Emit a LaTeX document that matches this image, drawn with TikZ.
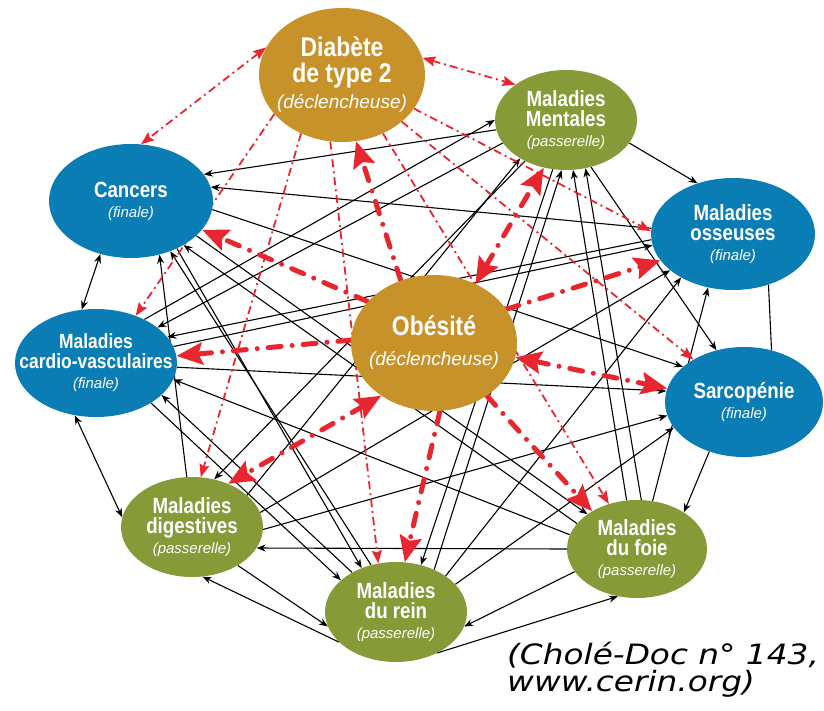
\documentclass[tikz,border=0pt]{standalone}
\usepackage{fontspec}
\setmainfont{Liberation Sans}
\newfontfamily\headfont[FakeStretch=0.85]{Liberation Sans}
\newfontfamily\citefont[FakeStretch=1.17]{DejaVu Sans}
\usetikzlibrary{arrows.meta, shapes.geometric, backgrounds}

\definecolor{trigger}{HTML}{C8922B}
\definecolor{bridge}{HTML}{869A37}
\definecolor{final}{HTML}{0B7DB5}
\definecolor{alarm}{HTML}{E8262F}

\newcommand{\kind}[2][15]{{\rmfamily\mdseries\itshape\fontsize{#1}{#1}\selectfont #2}}

\tikzset{
    bk/.tip={Stealth[length=9pt, width=7pt]},
    rd/.tip={Stealth[length=13pt, width=10pt, inset=2pt]},
    rdbig/.tip={Stealth[length=26pt, width=22pt, inset=4pt]}
}

\begin{document}
\begin{tikzpicture}[
    x=1pt, y=-1pt,
    blob/.style 2 args={ellipse, inner sep=0pt, minimum width=#1, minimum height=#2},
    title/.style={text=white, align=center, font=\headfont\bfseries\fontsize{22}{20}\selectfont},
    bigtitle/.style={text=white, align=center, font=\headfont\bfseries\fontsize{27}{26}\selectfont},
    cite/.style={align=left, anchor=north west, inner sep=0pt, font=\citefont\itshape\fontsize{28}{27}\selectfont},
    blk/.style={black, line width=1.1pt},
    thinred/.style={alarm, line width=1.8pt, dash pattern=on 8pt off 4pt on 2pt off 4pt},
    thickred/.style={alarm, line width=5pt, line cap=round, dash pattern=on 13pt off 11pt on 0pt off 11pt}
]
    \useasboundingbox (0,0) rectangle (824,711);

    % diseases
    \node[blob={166pt}{134pt}, fill=trigger] (diabete) at (342,75) {};
    \node[blob={142pt}{100pt}, fill=bridge] (mentales) at (566,120) {};
    \node[blob={164pt}{112pt}, fill=final] (osseuses) at (733,234) {};
    \node[blob={158pt}{110pt}, fill=final] (sarco) at (744,402) {};
    \node[blob={140pt}{98pt}, fill=bridge] (foie) at (637,549) {};
    \node[blob={142pt}{100pt}, fill=bridge] (rein) at (396,612) {};
    \node[blob={142pt}{100pt}, fill=bridge] (digest) at (192,527) {};
    \node[blob={162pt}{108pt}, fill=final] (cardio) at (96,363) {};
    \node[blob={164pt}{114pt}, fill=final] (cancers) at (131,201) {};
    \node[blob={166pt}{136pt}, fill=trigger] (obesite) at (434,343) {};

    \node[bigtitle] (diabete-txt) at (diabete) {Diabète\\de type 2\\\kind[19]{(déclencheuse)}};
    \node[title] (mentales-txt) at (mentales) {Maladies\\Mentales\\\kind{(passerelle)}};
    \node[title] (osseuses-txt) at (osseuses) {Maladies\\osseuses\\\kind{(finale)}};
    \node[title] (sarco-txt) at (sarco) {Sarcopénie\\\kind{(finale)}};
    \node[title] (foie-txt) at (foie) {Maladies\\du foie\\\kind{(passerelle)}};
    \node[title] (rein-txt) at (rein) {Maladies\\du rein\\\kind{(passerelle)}};
    \node[title] (digest-txt) at (digest) {Maladies\\digestives\\\kind{(passerelle)}};
    \node[title, font=\headfont\bfseries\fontsize{20.5}{20}\selectfont] (cardio-txt) at (cardio) {Maladies\\cardio-vasculaires\\\kind{(finale)}};
    \node[title] (cancers-txt) at (cancers) {Cancers\\\kind{(finale)}};
    \node[bigtitle] (obesite-txt) at (obesite) {Obésité\\[4pt]\kind[19]{(déclencheuse)}};

    \node[cite] (source) at (507,642) {(Cholé-Doc n° 143,\\www.cerin.org)};

    \begin{scope}[on background layer]
    % black links
    \draw[blk, -bk] (mentales.188) -- (cancers.20);
    \draw[blk, -bk] (osseuses.176) -- (cancers.10);
    \draw[blk, -bk] (cancers.-6) -- (sarco.150);
    \draw[blk, bk-bk] (cancers.-120) -- (cardio.105);
    \draw[blk, -bk] (digest.96) -- (cancers.-62);
    \draw[blk, -bk] (rein.118) -- (cancers.-52);
    \draw[blk, -bk] (foie.157) -- (cancers.-40);
    \draw[blk, -bk] (cancers.-46) -- (rein.128);
    \draw[blk, -bk] (mentales.200) -- (cardio.30);
    \draw[blk, -bk] (osseuses.184) -- (cardio.20);
    \draw[blk, -bk] (cardio.-3) -- (sarco.172);
    \draw[blk, -bk] (foie.168) -- (cardio.-12);
    \draw[blk, -bk] (rein.138) -- (cardio.-26);
    \draw[blk, bk-bk] (cardio.-112) -- (digest.172);
    \draw[blk, -bk] (cardio.-36) -- (rein.150);
    \draw[blk, -bk] (cardio.42) -- (mentales.180);
    \draw[blk, -bk] (cardio.12) -- (osseuses.-172);
    \draw[blk, -bk] (foie.180) -- (digest.-18);
    \draw[blk, -bk] (digest.-40) -- (rein.192);
    \draw[blk, -bk] (rein.208) -- (digest.-78);
    \draw[blk, -bk] (digest.30) -- (mentales.-140);
    \draw[blk, -bk] (digest.12) -- (osseuses.-150);
    \draw[blk, -bk] (digest.-2) -- (sarco.190);
    \draw[blk, -bk] (mentales.-135) -- (digest.65);
    \draw[blk, -bk] (rein.-45) -- (foie.-112);
    \draw[blk, -bk] (foie.200) -- (rein.-12);
    \draw[blk, -bk] (mentales.-105) -- (rein.62);
    \draw[blk, -bk] (rein.48) -- (mentales.-95);
    \draw[blk, -bk] (rein.36) -- (osseuses.-140);
    \draw[blk, -bk] (rein.25) -- (sarco.200);
    \draw[blk, -bk] (foie.102) -- (mentales.-82);
    \draw[blk, -bk] (foie.85) -- (mentales.-68);
    \draw[blk, -bk] (foie.72) -- (osseuses.-115);
    \draw[blk, -bk] (sarco.-125) -- (foie.38);
    \draw[blk, -bk] (cancers.-28) -- (foie.145);
    \draw[blk, -bk] (mentales.-20) -- (osseuses.125);
    \draw[blk, -bk] (mentales.-62) -- (sarco.118);
    \draw[blk] (osseuses.-55) -- (sarco.62);

    % red links from diabete
    \draw[thinred, rd-rd] (diabete.160) -- (cancers.80);
    \draw[thinred, rd-rd] (diabete.12) -- (mentales.145);
    \draw[thinred, -rd] (diabete.-25) -- (osseuses.178);
    \draw[thinred, -rd] (diabete.-38) -- (sarco.140);
    \draw[thinred, -rd] (diabete.-55) -- (foie.122);
    \draw[thinred, -rd] (diabete.-100) -- (rein.110);
    \draw[thinred, -rd] (diabete.-125) -- (digest.80);
    \draw[thinred, -rd] (diabete.-150) -- (cardio.50);

    % red links from obesite
    \draw[thickred, -rdbig] (obesite.118) -- (diabete.-78);
    \draw[thickred, rdbig-rdbig] (obesite.55) -- (mentales.-115);
    \draw[thickred, -rdbig] (obesite.25) -- (osseuses.-160);
    \draw[thickred, rdbig-rdbig] (obesite.-10) -- (sarco.170);
    \draw[thickred, -rdbig] (obesite.-45) -- (foie.140);
    \draw[thickred, -rdbig] (obesite.-85) -- (rein.80);
    \draw[thickred, rdbig-rdbig] (obesite.-135) -- (digest.50);
    \draw[thickred, -rdbig] (obesite.178) -- (cardio.5);
    \draw[thickred, -rdbig] (obesite.148) -- (cancers.-22);
    \end{scope}
\end{tikzpicture}
\end{document}
